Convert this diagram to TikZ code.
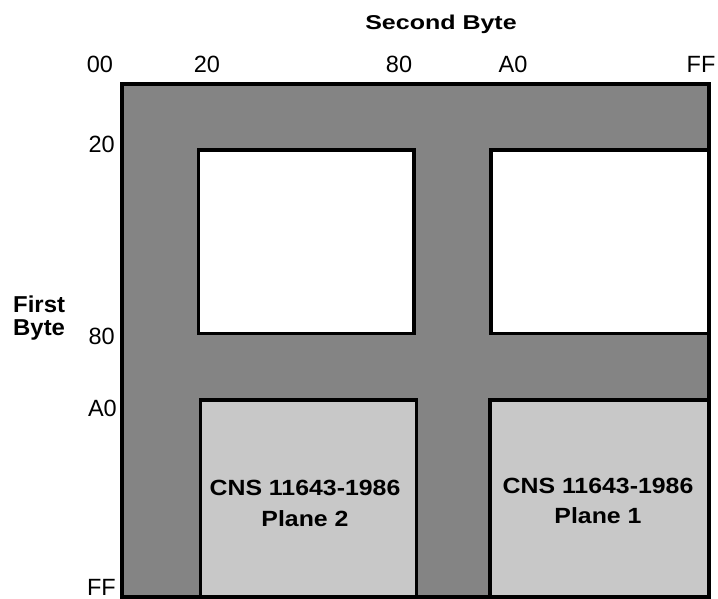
\documentclass[tikz,border=0pt]{standalone}
\usepackage{fontspec}
\setmainfont{Liberation Sans}
\usepackage{graphicx}
\definecolor{darkg}{RGB}{132,132,132}
\definecolor{lightg}{RGB}{200,200,200}
\begin{document}
\begin{tikzpicture}[x=1pt,y=-1pt,
  lab/.style={inner sep=0pt, anchor=base, font=\fontsize{23.5}{24}\selectfont},
  rlab/.style={lab, anchor=base east},
  ttl/.style={inner sep=0pt, anchor=base, font=\fontsize{20}{22}\bfseries\selectfont},
  sidettl/.style={inner sep=0pt, anchor=base west, font=\fontsize{23}{24}\bfseries\selectfont},
  boxtxt/.style={inner sep=0pt, anchor=base, font=\fontsize{22}{24}\bfseries\selectfont},
  outerline/.style={draw=black, line width=4pt},
  boxline/.style={draw=black, line width=3.5pt},
  emptybox/.style={boxline, fill=white},
  planebox/.style={boxline, fill=lightg}]
\useasboundingbox (0,0) rectangle (718,599);
% outer area
\filldraw[fill=darkg, outerline] (121.5,84.5) rectangle (709,596.5);
% upper (empty) regions
\draw[emptybox] (198.5,150) rectangle (414,333.5);
\draw[emptybox] (491,150) rectangle (709,333.5);
% lower (plane) regions
\draw[planebox] (200.5,400) rectangle (416.5,596.5);
\draw[planebox] (490,400) rectangle (709,596.5);
% redraw outer border on top
\draw[outerline] (121.5,84.5) rectangle (709,596.5);
% titles
\node[ttl] (sb) at (441,30) {\scalebox{1.25}[1]{Second Byte}};
\node[sidettl] (fb1) at (13,312) {\scalebox{1.04}[1]{First}};
\node[sidettl] (fb2) at (13,335) {\scalebox{1.04}[1]{Byte}};
% column labels
\node[lab] (c00) at (100,73) {00};
\node[lab] (c20) at (207,73) {20};
\node[lab] (c80) at (399,73) {80};
\node[lab] (cA0) at (513,73) {A0};
\node[lab] (cFF) at (701,73) {FF};
% row labels
\node[rlab] (r20) at (115,153) {20};
\node[rlab] (r80) at (115,344) {80};
\node[rlab] (rA0) at (117,416) {A0};
\node[rlab] (rFF) at (116,595) {FF};
% plane texts
\node[boxtxt] (p2a) at (305,495) {\scalebox{1.13}[1]{CNS 11643-1986}};
\node[boxtxt] (p2b) at (305,526) {\scalebox{1.13}[1]{Plane 2}};
\node[boxtxt] (p1a) at (598,493) {\scalebox{1.13}[1]{CNS 11643-1986}};
\node[boxtxt] (p1b) at (598,523) {\scalebox{1.13}[1]{Plane 1}};
\end{tikzpicture}
\end{document}
